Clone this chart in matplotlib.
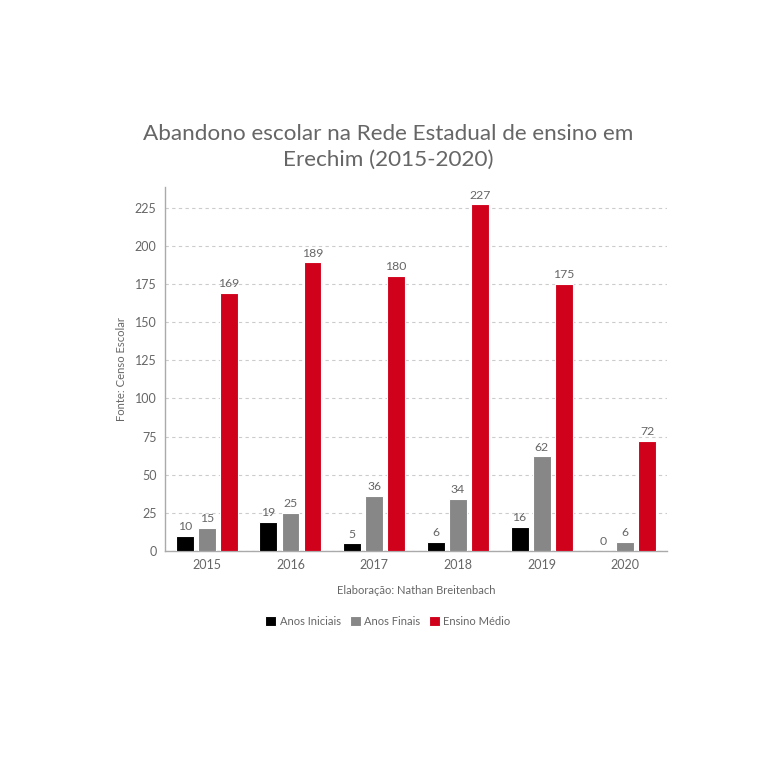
import numpy as np
import matplotlib.pyplot as plt

plt.rcParams['font.family'] = ['Lato', 'DejaVu Sans']

anos = ['2015', '2016', '2017', '2018', '2019', '2020']
anos_iniciais = [10, 19, 5, 6, 16, 0]
anos_finais = [15, 25, 36, 34, 62, 6]
ensino_medio = [169, 189, 180, 227, 175, 72]

series = [
    ('Anos Iniciais', anos_iniciais, '#000000'),
    ('Anos Finais', anos_finais, '#878787'),
    ('Ensino Médio', ensino_medio, '#d0021b'),
]

txt = '#666666'
fig = plt.figure(figsize=(7.76, 7.57), dpi=100)
ax = fig.add_axes([0.2126, 0.2721, 0.647, 0.481])

x = np.arange(len(anos))
off = 0.263
w = 0.215
for i, (nome, vals, cor) in enumerate(series):
    pos = x + (i - 1) * off
    ax.bar(pos, vals, width=w, color=cor, edgecolor='white', linewidth=0.8,
           label=nome, zorder=3)
    for p, v in zip(pos, vals):
        ax.text(p, v + 2.5, str(v), ha='center', va='bottom', fontsize=8.8, color=txt)

ax.set_xlim(-0.5, 5.5)
ax.set_ylim(0, 238.5)
ax.set_yticks(range(0, 226, 25))
ax.set_xticks(x)
ax.set_xticklabels(anos)
ax.tick_params(axis='both', length=0, labelsize=9, labelcolor=txt, pad=6)
ax.yaxis.grid(True, linestyle=(0, (3, 3)), color='#cccccc', linewidth=0.8, zorder=0)
for s in ['top', 'right']:
    ax.spines[s].set_visible(False)
for s in ['left', 'bottom']:
    ax.spines[s].set_color('#aaaaaa')
    ax.spines[s].set_linewidth(1.0)

ax.set_ylabel('Fonte: Censo Escolar', fontsize=8.1, color=txt, labelpad=6)
ax.set_xlabel('Elaboração: Nathan Breitenbach', fontsize=8, color=txt, labelpad=10)
fig.suptitle('Abandono escolar na Rede Estadual de ensino em\nErechim (2015-2020)',
             x=0.5, y=0.836, fontsize=16.2, color='#666666', linespacing=1.35,
             va='top')

fig.legend(*ax.get_legend_handles_labels(), loc='center', bbox_to_anchor=(0.5, 0.179),
           ncol=3, frameon=False, fontsize=8, handlelength=1.0, handleheight=1.0,
           handletextpad=0.3, columnspacing=0.8, labelcolor=txt)

fig.savefig('out.png', dpi=100, facecolor='white')
